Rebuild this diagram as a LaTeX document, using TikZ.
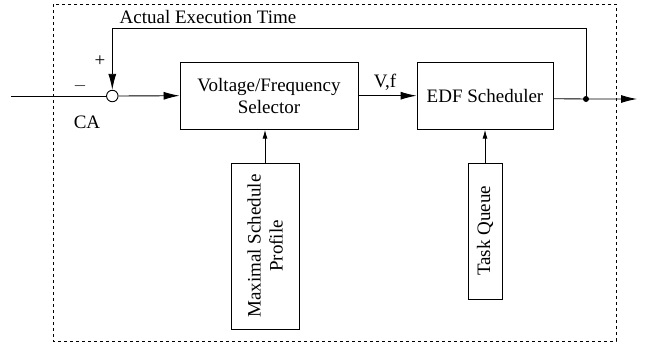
\documentclass[tikz,border=0pt]{standalone}
\usepackage{fontspec}
\setmainfont{Liberation Serif}
\usetikzlibrary{arrows.meta}
\begin{document}
\begin{tikzpicture}[x=1pt,y=-1pt,
  every node/.style={font=\fontsize{19}{22}\selectfont},
  blk/.style={draw,line width=0.9pt,inner sep=2pt,align=center},
  conn/.style={line width=0.9pt},
  bigarrow/.style={conn,-{Latex[length=16pt,width=8pt]}},
  smallarrow/.style={conn,-{Latex[length=9pt,width=5pt]}},
  lbl/.style={inner sep=0pt}]
\useasboundingbox (0,0) rectangle (651,348);
\draw[dashed,line width=0.6pt] (53,4) rectangle (616,341);
\node[blk,minimum width=178,minimum height=67] (vf) at (269,95.7) {Voltage/Frequency\\[0pt]Selector};
\node[blk,minimum width=136,minimum height=67] (edf) at (485,95.7) {EDF Scheduler};
\node[blk,rotate=90,minimum width=166,minimum height=68] (msp) at (265,246) {Maximal Schedule\\[0pt]Profile};
\node[blk,rotate=90,minimum width=136,minimum height=34] (tq) at (485,231) {Task Queue};
\node[draw,circle,line width=0.9pt,minimum size=11.5pt,inner sep=0pt] (sum) at (112.3,96) {};
\coordinate (in) at (11,96);
\coordinate (j) at (586,99);
\coordinate (out) at (637,99);
\draw[conn] (in) -- (sum.west);
\draw[bigarrow] (sum.east) -- (vf.west);
\draw[bigarrow] (vf.east) -- (edf.west);
\draw[bigarrow] ([yshift=-3pt]edf.east) -- (j) -- (out);
\fill (j) circle (3pt);
\draw[bigarrow] (j) -- (586,28) -| (sum.north);
\draw[smallarrow] (msp.east) -- (vf.south -| msp.east);
\draw[smallarrow] (tq.east) -- (edf.south);
\node[lbl] (aet) at (208,17) {Actual Execution Time};
\node[lbl] (vfl) at (385,82) {V,f};
\node[lbl] (plus) at (100,61) {+};
\node[lbl] (minus) at (80,86) {$-$};
\node[lbl] (ca) at (87,122) {CA};
\end{tikzpicture}
\end{document}
